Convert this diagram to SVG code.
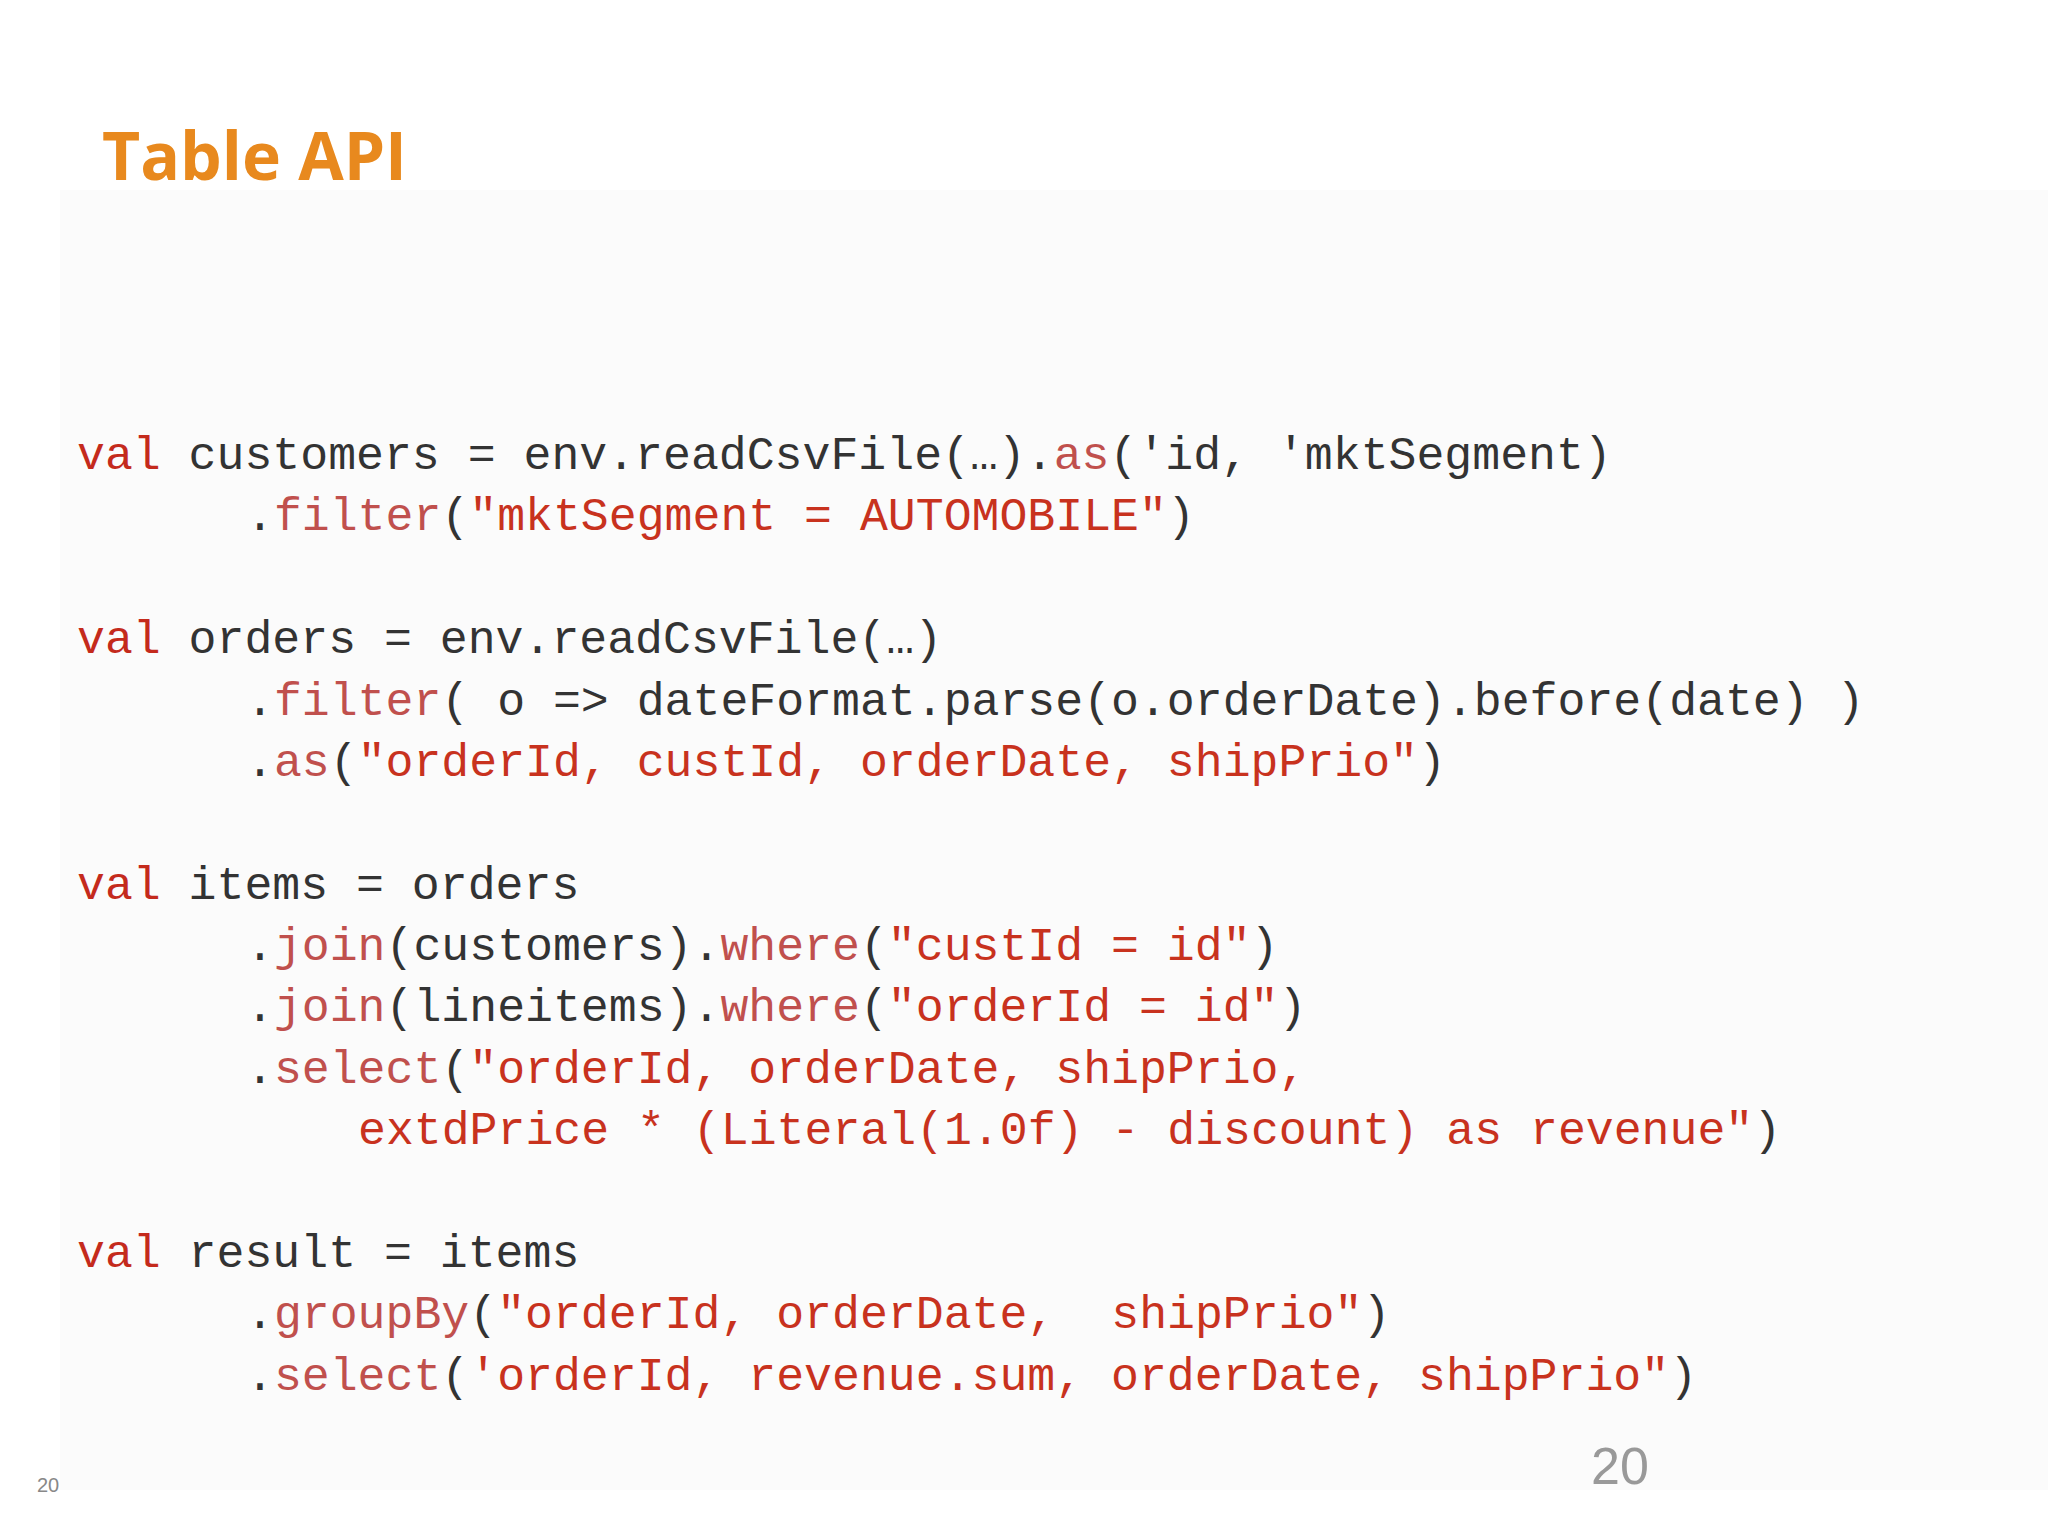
<svg xmlns="http://www.w3.org/2000/svg" width="2048" height="1536" viewBox="0 0 2048 1536">
<style>
.c{font-family:"Liberation Mono","DejaVu Sans Mono",monospace;font-size:46.5px;fill:#333333}
.k{fill:#c42a1c}.m{fill:#c0504d}.s{fill:#c8321e}
</style>
<rect width="2048" height="1536" fill="#ffffff"/>
<rect x="60" y="190" width="1988" height="1300" fill="#fbfbfb"/>
<text x="102" y="180" font-family="'Open Sans',Lato,sans-serif" font-weight="bold" font-size="66" fill="#e8891e">Table API</text>
<g id="code" class="c">
<text x="77" y="469"><tspan class="k">val</tspan> customers = env.readCsvFile(…).<tspan class="m">as</tspan>('id, 'mktSegment)</text>
<text x="246" y="530">.<tspan class="m">filter</tspan>(<tspan class="s">"mktSegment = AUTOMOBILE"</tspan>)</text>
<text x="77" y="653"><tspan class="k">val</tspan> orders = env.readCsvFile(…)</text>
<text x="246" y="715">.<tspan class="m">filter</tspan>( o =&gt; dateFormat.parse(o.orderDate).before(date) )</text>
<text x="246" y="776">.<tspan class="m">as</tspan>(<tspan class="s">"orderId, custId, orderDate, shipPrio"</tspan>)</text>
<text x="77" y="899"><tspan class="k">val</tspan> items = orders</text>
<text x="246" y="960">.<tspan class="m">join</tspan>(customers).<tspan class="m">where</tspan>(<tspan class="s">"custId = id"</tspan>)</text>
<text x="246" y="1021">.<tspan class="m">join</tspan>(lineitems).<tspan class="m">where</tspan>(<tspan class="s">"orderId = id"</tspan>)</text>
<text x="246" y="1083">.<tspan class="m">select</tspan>(<tspan class="s">"orderId, orderDate, shipPrio,</tspan></text>
<text x="358" y="1144"><tspan class="s">extdPrice * (Literal(1.0f) - discount) as revenue"</tspan>)</text>
<text x="77" y="1267"><tspan class="k">val</tspan> result = items</text>
<text x="246" y="1328">.<tspan class="m">groupBy</tspan>(<tspan class="s">"orderId, orderDate,</tspan><tspan class="s" dx="56">shipPrio"</tspan>)</text>
<text x="246" y="1390">.<tspan class="m">select</tspan>(<tspan class="s">'orderId, revenue.sum, orderDate, shipPrio"</tspan>)</text>
</g>
<text x="37" y="1492" font-family="'Liberation Sans',sans-serif" font-size="20" fill="#888">20</text>
<text x="1591" y="1484" font-family="'Liberation Sans',sans-serif" font-size="52" fill="#999">20</text>
</svg>
